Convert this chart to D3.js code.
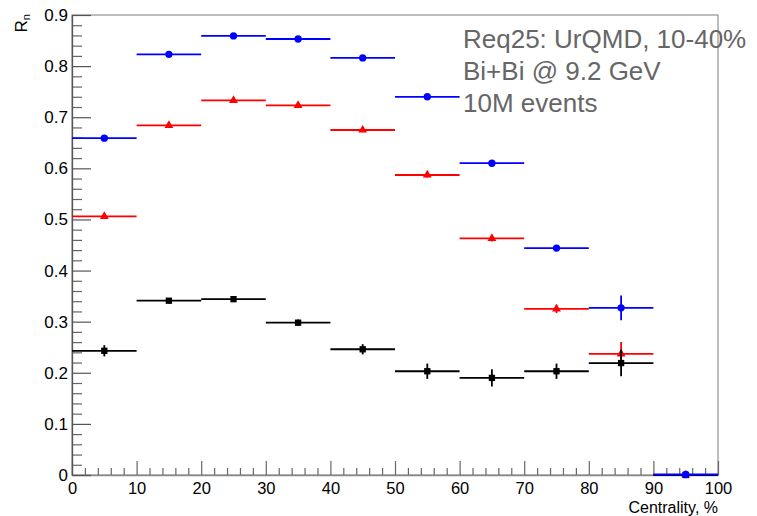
<!DOCTYPE html>
<html>
<head>
<meta charset="utf-8">
<script src="https://cdn.jsdelivr.net/npm/d3@7"></script>
<style>
  html, body { margin: 0; padding: 0; background: #fff; }
  svg { display: block; }
  text { font-family: "Liberation Sans", Arial, Helvetica, sans-serif; }
</style>
</head>
<body>
<svg id="chart" width="757" height="516"></svg>
<script>
// ---- data ----
const binCenters = [5, 15, 25, 35, 45, 55, 65, 75, 85, 95];
const binHalfWidth = 5;
const blueValues = [0.659, 0.823, 0.859, 0.853, 0.816, 0.740, 0.610, 0.444, 0.327, 0.001];
const blueErrors = [0.003, 0.003, 0.003, 0.003, 0.003, 0.004, 0.005, 0.006, 0.024, 0.002];
const redValues = [0.506, 0.684, 0.733, 0.723, 0.675, 0.587, 0.463, 0.325, 0.237, 0];
const redErrors = [0.004, 0.004, 0.004, 0.004, 0.004, 0.005, 0.006, 0.008, 0.023, 0];
const blackValues = [0.243, 0.341, 0.344, 0.298, 0.246, 0.203, 0.190, 0.203, 0.219, 0];
const blackErrors = [0.011, 0.005, 0.005, 0.006, 0.010, 0.015, 0.017, 0.015, 0.026, 0];
const xTickValues = [0, 10, 20, 30, 40, 50, 60, 70, 80, 90, 100];
const yTickValues = [0, 0.1, 0.2, 0.3, 0.4, 0.5, 0.6, 0.7, 0.8, 0.9];
const yTickLabels = ["0", "0.1", "0.2", "0.3", "0.4", "0.5", "0.6", "0.7", "0.8", "0.9"];
const xTitle = "Centrality, %";
const infoLines = ["Req25: UrQMD, 10-40%", "Bi+Bi @ 9.2 GeV", "10M events"];

// ---- layout ----
const svg = d3.select("#chart");
const L = 72, R = 718, T = 15, B = 475;
const x = d3.scaleLinear().domain([0, 100]).range([L, R]);
const y = d3.scaleLinear().domain([0, 0.9]).range([B, T]);

// frame
svg.append("rect").attr("x", L).attr("y", T).attr("width", R - L).attr("height", B - T)
  .attr("fill", "none").attr("stroke", "#9a9a9a").attr("stroke-width", 1.3);

// minor x ticks
const xMinor = d3.range(0, 101, 2).filter(v => v % 10 !== 0);
svg.append("g").attr("transform", `translate(0,${B})`)
  .call(d3.axisBottom(x).tickValues(xMinor).tickSize(-7).tickFormat(""))
  .call(g => g.select(".domain").remove())
  .call(g => g.selectAll("line").attr("stroke", "#666").attr("stroke-width", 1.2));
// major x ticks
svg.append("g").attr("transform", `translate(0,${B})`)
  .call(d3.axisBottom(x).tickValues(xTickValues).tickSize(-14).tickSizeOuter(0).tickPadding(7)
        .tickFormat(d3.format("d")))
  .call(g => g.select(".domain").attr("stroke", "#888").attr("stroke-width", 1.3))
  .call(g => g.selectAll("line").attr("stroke", "#666").attr("stroke-width", 1.2))
  .call(g => g.selectAll("text").attr("font-size", 16.5).attr("fill", "#000"));

// minor y ticks
const yMinor = d3.range(0, 46).map(i => i * 0.02).filter((v, i) => i % 5 !== 0);
svg.append("g").attr("transform", `translate(${L},0)`)
  .call(d3.axisLeft(y).tickValues(yMinor).tickSize(-10).tickFormat(""))
  .call(g => g.select(".domain").remove())
  .call(g => g.selectAll("line").attr("stroke", "#666").attr("stroke-width", 1.2));
// major y ticks
svg.append("g").attr("transform", `translate(${L},0)`)
  .call(d3.axisLeft(y).tickValues(yTickValues).tickSize(-19).tickSizeOuter(0).tickPadding(4)
        .tickFormat((d, i) => yTickLabels[i]))
  .call(g => g.select(".domain").attr("stroke", "#555").attr("stroke-width", 1.3))
  .call(g => g.selectAll("line").attr("stroke", "#555").attr("stroke-width", 1.2))
  .call(g => g.selectAll("text").attr("font-size", 17).attr("fill", "#000"));

// axis titles
svg.append("text").attr("x", R).attr("y", 513).attr("text-anchor", "end")
  .attr("font-size", 16).attr("fill", "#000").text(xTitle);
const yt = svg.append("text").attr("transform", "translate(27,14) rotate(-90)")
  .attr("text-anchor", "end").attr("font-size", 17).attr("fill", "#000");
yt.append("tspan").text("R");
yt.append("tspan").attr("font-size", 11).attr("dy", 3).text("n");

// ---- series ----
function drawSeries(values, errors, color, symbolType, size) {
  const g = svg.append("g");
  const data = binCenters.map((c, i) => ({ c, v: values[i], e: errors[i] }));
  g.selectAll("line.h").data(data).enter().append("line")
    .attr("x1", d => x(d.c - binHalfWidth)).attr("x2", d => x(d.c + binHalfWidth))
    .attr("y1", d => y(d.v)).attr("y2", d => y(d.v))
    .attr("stroke", color).attr("stroke-width", 1.8);
  g.selectAll("line.v").data(data).enter().append("line")
    .attr("x1", d => x(d.c)).attr("x2", d => x(d.c))
    .attr("y1", d => y(d.v - d.e)).attr("y2", d => y(d.v + d.e))
    .attr("stroke", color).attr("stroke-width", 1.8);
  g.selectAll("path.m").data(data).enter().append("path")
    .attr("transform", d => `translate(${x(d.c)},${y(d.v)})`)
    .attr("d", d3.symbol().type(symbolType).size(size))
    .attr("fill", color);
}
drawSeries(redValues, redErrors, "#ff0000", d3.symbolTriangle, 34);
drawSeries(blackValues, blackErrors, "#000000", d3.symbolSquare, 40);
drawSeries(blueValues, blueErrors, "#0000ff", d3.symbolCircle, 42);

// info text
const info = svg.append("g");
info.selectAll("text").data(infoLines).enter().append("text")
  .attr("x", 463).attr("y", (d, i) => 48 + i * 32)
  .attr("font-size", 26).attr("fill", "#666").text(d => d);
</script>
</body>
</html>
